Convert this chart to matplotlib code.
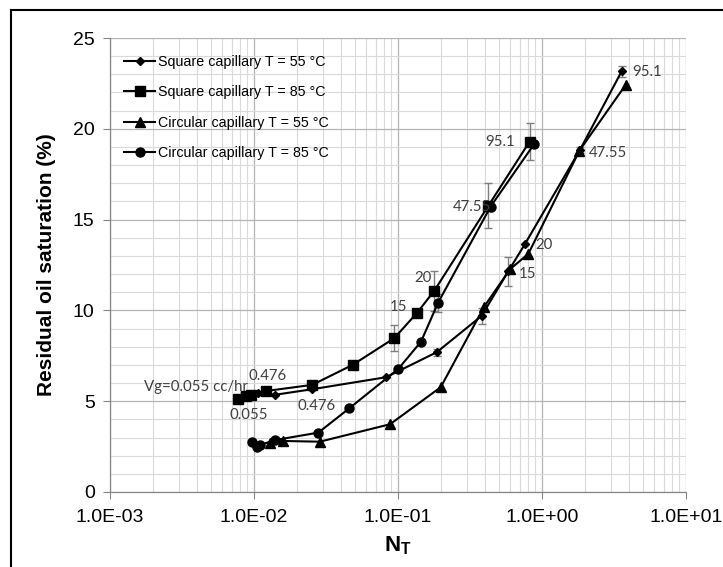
import matplotlib
matplotlib.use("Agg")
import matplotlib.pyplot as plt
from matplotlib.lines import Line2D
from matplotlib.ticker import FixedLocator, FuncFormatter, LogLocator, MultipleLocator

plt.rcParams['font.family'] = ['Liberation Sans', 'DejaVu Sans']
plt.rcParams['mathtext.fontset'] = 'custom'
plt.rcParams['mathtext.rm'] = 'Liberation Sans'
plt.rcParams['mathtext.bf'] = 'Liberation Sans:bold'

# capillary number vs residual oil saturation
sq55_nt = [0.0106, 0.0139, 0.0254, 0.0826, 0.186, 0.381, 0.583, 0.762, 1.835, 3.57]
sq55_sor = [5.45, 5.35, 5.66, 6.32, 7.70, 9.70, 12.15, 13.66, 18.84, 23.16]
sq55_err = [0, 0, 0, 0, 0.2, 0.45, 0.8, 0, 0.15, 0.3]

sq85_nt = [0.0078, 0.0088, 0.0096, 0.0121, 0.0254, 0.0484, 0.0942, 0.136, 0.179, 0.424, 0.821]
sq85_sor = [5.11, 5.30, 5.32, 5.56, 5.90, 7.00, 8.47, 9.88, 11.09, 15.76, 19.30]
sq85_err = [0, 0, 0, 0, 0, 0, 0.7, 0.2, 1.1, 1.25, 1.0]

ci55_nt = [0.0129, 0.016, 0.0286, 0.088, 0.198, 0.397, 0.60, 0.803, 1.82, 3.81]
ci55_sor = [2.72, 2.81, 2.77, 3.73, 5.77, 10.21, 12.27, 13.11, 18.80, 22.42]

ci85_nt = [0.0097, 0.01045, 0.0110, 0.0140, 0.028, 0.0459, 0.1005, 0.1445, 0.19, 0.44, 0.884]
ci85_sor = [2.77, 2.46, 2.59, 2.86, 3.27, 4.61, 6.78, 8.28, 10.43, 15.72, 19.17]
ci85_err = [0, 0, 0, 0, 0, 0, 0, 0, 0.5, 0, 0]

# flow rate labels (cc/hr) and where they sit
rate_labels = ['Vg=0.055 cc/hr', '0.476', '0.055', '0.476', '15', '20', '47.55', '95.1',
               '47.55', '20', '15', '95.1']
rate_x = [0.00395, 0.0124, 0.00916, 0.027, 0.1007, 0.149, 0.327, 0.511, 2.87, 1.04, 0.787, 5.36]
rate_y = [5.79, 6.39, 4.24, 4.74, 10.19, 11.79, 15.70, 19.28, 18.68, 13.61, 12.01, 23.14]

fig = plt.figure(figsize=(7.23, 5.67), dpi=100)
ax = fig.add_axes([110 / 723, 75 / 567, 576 / 723, 454 / 567])

ax.set_xscale('log')
ax.set_xlim(1e-3, 1e1)
ax.set_ylim(0, 25)

# error bars first so the lines sit on top
ax.errorbar(sq55_nt, sq55_sor, yerr=sq55_err, fmt='none', ecolor='#7f7f7f', elinewidth=1,
            capsize=3, capthick=1, zorder=3)
ax.errorbar(sq85_nt, sq85_sor, yerr=sq85_err, fmt='none', ecolor='#7f7f7f', elinewidth=1,
            capsize=3, capthick=1, zorder=3)
ax.errorbar(ci85_nt, ci85_sor, yerr=ci85_err, fmt='none', ecolor='#7f7f7f', elinewidth=1,
            capsize=3, capthick=1, zorder=3)

ax.plot(sq55_nt, sq55_sor, c='black', lw=1.5, marker='D', ms=4.5, label='Square capillary T = 55 °C', zorder=4)
ax.plot(sq85_nt, sq85_sor, c='black', lw=1.5, marker='s', ms=6.5, label='Square capillary T = 85 °C', zorder=4)
ax.plot(ci55_nt, ci55_sor, c='black', lw=1.5, marker='^', ms=6.5, label='Circular capillary T = 55 °C', zorder=4)
ax.plot(ci85_nt, ci85_sor, c='black', lw=1.5, marker='o', ms=6.5, label='Circular capillary T = 85 °C', zorder=4)

for lab, x, y in zip(rate_labels, rate_x, rate_y):
    ax.text(x, y, lab, ha='center', va='center', fontsize=10.8, color='#404040',
            family=['Lato', 'DejaVu Sans'], zorder=5)

# grid
ax.yaxis.set_major_locator(MultipleLocator(5))
ax.yaxis.set_minor_locator(MultipleLocator(1))
ax.xaxis.set_major_locator(FixedLocator([1e-3, 1e-2, 1e-1, 1e0, 1e1]))
ax.xaxis.set_minor_locator(LogLocator(base=10, subs=range(2, 10)))
ax.xaxis.set_major_formatter(FuncFormatter(lambda v, p: format(v, '.1E')))
ax.xaxis.set_minor_formatter(FuncFormatter(lambda v, p: ''))
ax.grid(which='major', color='#b4b4b4', lw=0.9)
ax.grid(which='minor', color='#dadada', lw=0.8)
ax.set_axisbelow(True)

for s in ['top', 'right']:
    ax.spines[s].set_visible(False)
for s in ['left', 'bottom']:
    ax.spines[s].set_color('#868686')
    ax.spines[s].set_linewidth(0.9)
ax.tick_params(which='major', direction='out', length=5, color='#868686', labelsize=14)
ax.tick_params(axis='x', which='major', pad=7)
ax.tick_params(axis='y', which='major', pad=6)
ax.tick_params(which='minor', length=0)

ax.set_ylabel('Residual oil saturation (%)', fontsize=15, fontweight='bold', labelpad=12)
ax.set_xlabel(r'$\mathbf{N_T}$', fontsize=16, labelpad=6)

ax.legend(loc='upper left', bbox_to_anchor=(14 / 576, 1 - 17 / 454), frameon=False, fontsize=10.3,
          handlelength=2.2, handletextpad=0.15, labelspacing=1.15, borderpad=0, borderaxespad=0,
          numpoints=1)

# frame around the whole figure
fig.add_artist(Line2D([11 / 723, 11 / 723], [0, 1 - 10 / 567], color='black', lw=1.5,
                      transform=fig.transFigure))
fig.add_artist(Line2D([11 / 723, 1], [1 - 10 / 567, 1 - 10 / 567], color='black', lw=1.5,
                      transform=fig.transFigure))

plt.savefig('out.png', dpi=100)
plt.close('all')
